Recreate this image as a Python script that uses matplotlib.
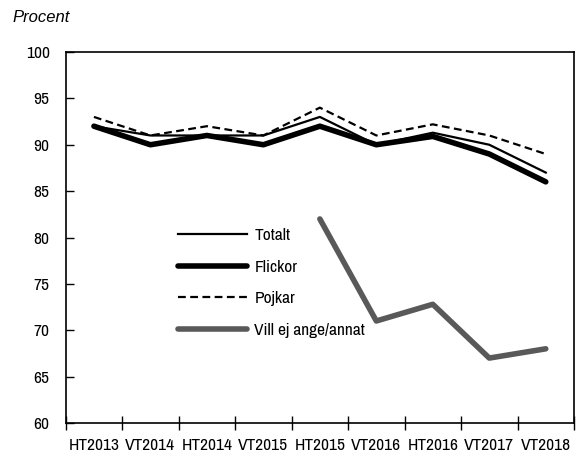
import matplotlib.pyplot as plt
import numpy as np

terminer = ["HT2013", "VT2014", "HT2014", "VT2015", "HT2015",
            "VT2016", "HT2016", "VT2017", "VT2018"]
totalt = [92, 91, 91, 91, 93, 90, 91.3, 90, 87]
flickor = [92, 90, 91, 90, 92, 90, 90.9, 89, 86]
pojkar = [93, 91, 92, 91, 94, 91, 92.2, 91, 89]
# svarsalternativet fanns först från HT2015
vill_ej = [None, None, None, None, 82, 71, 72.8, 67, 68]

plt.rcParams['font.family'] = ['Archivo Narrow', 'PT Sans Narrow', 'DejaVu Sans']
plt.rcParams['font.size'] = 12.5

fig = plt.figure(figsize=(5.82, 4.55), dpi=100)
ax = fig.add_axes([65.7/582, 32/455, 508.3/582, 371/455])

x = np.arange(len(terminer))
ax.plot(x, totalt, color='black', lw=1.6, label='Totalt')
ax.plot(x, flickor, color='black', lw=4, solid_capstyle='round', label='Flickor')
ax.plot(x, pojkar, color='black', lw=1.6, ls=(0, (3.5, 2)), label='Pojkar')
ve = np.array([np.nan if v is None else v for v in vill_ej], dtype=float)
ax.plot(x, ve, color='#595959', lw=4, solid_capstyle='round',
        label='Vill ej ange/annat')

ax.set_xlim(-0.5, len(terminer) - 0.5)
ax.set_ylim(60, 100)
ax.set_yticks(range(60, 101, 5))
ax.tick_params(axis='y', direction='in', length=6, width=1, pad=11.5)
ax.set_xticks(x)
ax.set_xticklabels(terminer)
ax.tick_params(axis='x', which='major', length=0, pad=11)
ax.set_xticks(np.arange(-0.5, len(terminer)), minor=True)
ax.tick_params(axis='x', which='minor', direction='inout', length=10, width=1)
for s in ax.spines.values():
    s.set_linewidth(1.2)

leg = ax.legend(loc='upper left', bbox_to_anchor=(0.221, 0.526), frameon=False,
                borderaxespad=0, borderpad=0,
                handlelength=4.0, labelspacing=0.95, handletextpad=0.4,
                fontsize=12.5)

fig.text(12/582, 1 - 18/455, 'Procent', family='Liberation Sans',
         style='italic', fontsize=12, va='center', ha='left')

fig.savefig('out.png', dpi=100)
